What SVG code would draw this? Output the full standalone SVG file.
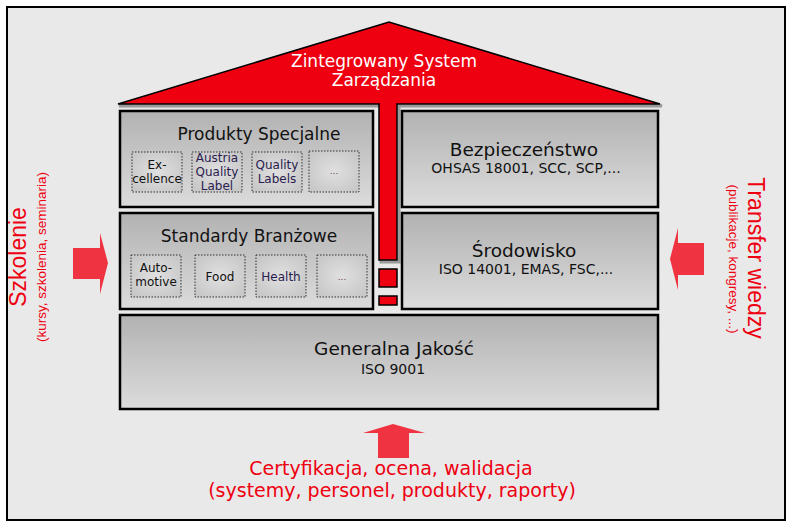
<svg xmlns="http://www.w3.org/2000/svg" width="791" height="525" viewBox="0 0 791 525">
<defs>
<linearGradient id="boxg" x1="0" y1="0" x2="0" y2="1">
<stop offset="0" stop-color="#b2b2b2"/>
<stop offset="1" stop-color="#dcdcdc"/>
</linearGradient>
<radialGradient id="subg" cx="0.5" cy="0.5" r="0.6">
<stop offset="0" stop-color="#e0e0e0"/>
<stop offset="1" stop-color="#c8c8c8"/>
</radialGradient>
<style>
.box{fill:url(#boxg);stroke:#000;stroke-width:2.5}
.sub{fill:url(#subg);stroke:#333;stroke-width:1;stroke-dasharray:1.5 1.5}
.t{font-family:"DejaVu Sans",Verdana,sans-serif;text-anchor:middle;fill:#111}
.title{font-size:17px}
.big{font-size:18.5px}
.small{font-size:14px}
.st{font-size:12px}
.pu{fill:#2a1c4e}
.dots{font-size:9px;fill:#6a3a60}
.red{font-family:"Liberation Sans",Arial,sans-serif;fill:#ee0010;text-anchor:middle}
.arrow{fill:#ef3340}
</style>
</defs>
<rect x="0" y="0" width="791" height="525" fill="#ffffff"/>
<rect x="7" y="7" width="778" height="513" fill="#e9e9e9" stroke="#000" stroke-width="2"/>

<g id="roof">
<path d="M118,105 L389,23 L661,105 L398,105 L398,261 L380,261 L380,105 Z" fill="none" stroke="#9a9a9a" stroke-width="3" transform="translate(1,1)"/>
<path d="M118,104 L389,22 L660,104 L397,104 L397,260 L379,260 L379,104 Z" fill="#ee0010" stroke="#000" stroke-width="1.5" stroke-linejoin="miter"/>
<rect x="379" y="269" width="18" height="18" fill="#ee0010" stroke="#000" stroke-width="1.5"/>
<rect x="379" y="296" width="18" height="9" fill="#ee0010" stroke="#000" stroke-width="1.5"/>
<text class="t" x="384" y="67" font-size="17" style="fill:#ffffff">Zintegrowany System</text>
<text class="t" x="384" y="86" font-size="17" style="fill:#ffffff">Zarządzania</text>
</g>

<g id="produkty">
<rect class="box" x="120" y="111" width="253" height="96"/>
<text class="t title" x="259" y="140">Produkty Specjalne</text>
<g id="excellence">
<rect class="sub" x="132" y="152" width="50" height="40"/>
<text class="t st" x="157" y="169">Ex-</text>
<text class="t st" x="157" y="183">cellence</text>
</g>
<g id="austria">
<rect class="sub" x="192" y="152" width="50" height="40"/>
<text class="t st pu" x="217" y="162">Austria</text>
<text class="t st pu" x="217" y="176">Quality</text>
<text class="t st pu" x="217" y="190">Label</text>
</g>
<g id="qlabels">
<rect class="sub" x="252" y="152" width="50" height="40"/>
<text class="t st pu" x="277" y="169">Quality</text>
<text class="t st pu" x="277" y="183">Labels</text>
</g>
<g id="pdots">
<rect class="sub" x="309" y="151" width="50" height="41"/>
<text class="t dots" x="334" y="174">...</text>
</g>
</g>

<g id="standardy">
<rect class="box" x="120" y="213" width="253" height="96"/>
<text class="t title" x="249" y="242">Standardy Branżowe</text>
<g id="automotive">
<rect class="sub" x="131" y="255" width="50" height="42"/>
<text class="t st" x="156" y="272">Auto-</text>
<text class="t st" x="156" y="286">motive</text>
</g>
<g id="food">
<rect class="sub" x="195" y="255" width="50" height="42"/>
<text class="t st" x="220" y="281">Food</text>
</g>
<g id="health">
<rect class="sub" x="256" y="255" width="50" height="42"/>
<text class="t st pu" x="281" y="281">Health</text>
</g>
<g id="sdots">
<rect class="sub" x="317" y="255" width="50" height="42"/>
<text class="t dots" x="342" y="280">...</text>
</g>
</g>

<g id="bezpieczenstwo">
<rect class="box" x="402" y="111" width="256" height="96"/>
<text class="t big" x="524" y="156">Bezpieczeństwo</text>
<text class="t small" x="526" y="173">OHSAS 18001, SCC, SCP,...</text>
</g>

<g id="srodowisko">
<rect class="box" x="402" y="213" width="256" height="96"/>
<text class="t big" x="524" y="257">Środowisko</text>
<text class="t small" x="526" y="274">ISO 14001, EMAS, FSC,...</text>
</g>

<g id="generalna">
<rect class="box" x="120" y="315" width="538" height="94"/>
<text class="t big" x="394" y="355">Generalna Jakość</text>
<text class="t small" x="393" y="374" font-size="15">ISO 9001</text>
</g>

<g id="szkolenie">
<text class="red" font-size="23" transform="translate(26,257) rotate(-90)">Szkolenie</text>
<text class="red" font-size="13.5" transform="translate(46,257) rotate(-90)">(kursy, szkolenia, seminaria)</text>
</g>

<g id="transfer">
<text class="red" font-size="23" transform="translate(748,258) rotate(90)">Transfer wiedzy</text>
<text class="red" font-size="13.5" transform="translate(729,259) rotate(90)">(publikacje, kongresy, ...)</text>
</g>

<g id="certyfikacja">
<text class="red" font-size="19" x="391" y="475" style="font-family:'DejaVu Sans',Verdana,sans-serif">Certyfikacja, ocena, walidacja</text>
<text class="red" font-size="19" x="392" y="497" style="font-family:'DejaVu Sans',Verdana,sans-serif">(systemy, personel, produkty, raporty)</text>
</g>

<g id="connectors">
<path class="arrow" d="M73,248 L100,248 L100,233 L108,263 L100,294 L100,279 L73,279 Z"/>
<path class="arrow" d="M704,243 L678,243 L678,228 L670,259 L678,290 L678,275 L704,275 Z"/>
<path class="arrow" d="M378,458 L378,433 L363,433 L393,424 L425,433 L409,433 L409,458 Z"/>
</g>
</svg>
